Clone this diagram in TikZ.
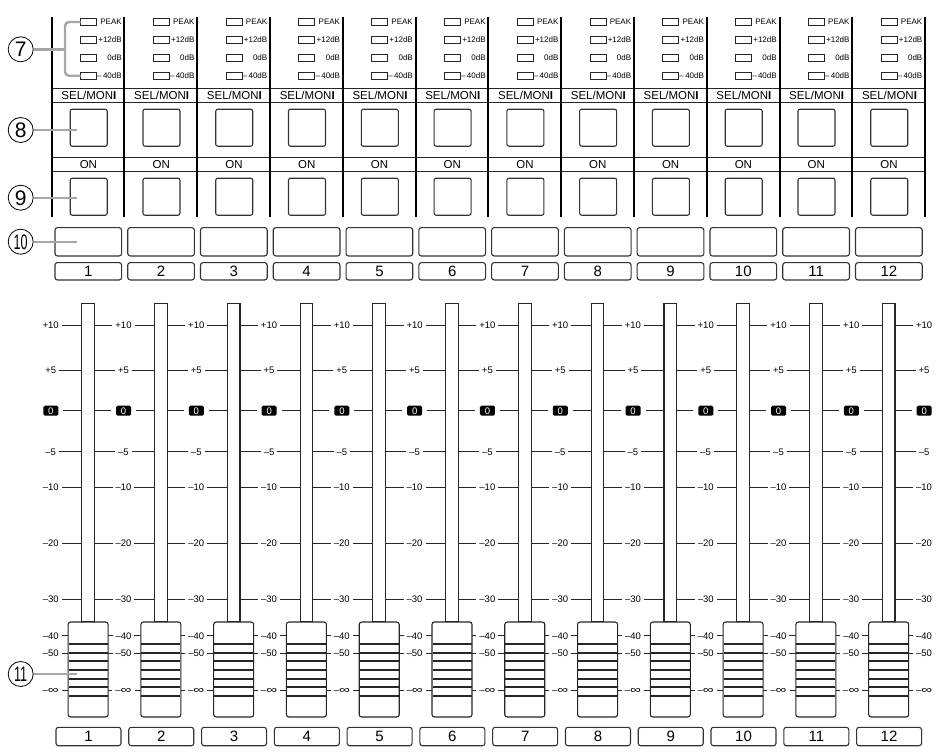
\documentclass[tikz,border=0pt]{standalone}
\usepackage{fontspec}
\setmainfont{Liberation Sans}
\usepackage{graphicx}
\newcommand{\infsym}{\raisebox{0.3pt}{\scalebox{1.6}[1.1]{∞}}}
\begin{document}
\begin{tikzpicture}[x=1pt,y=-1pt,
  sep/.style={line width=2pt,black},
  hline/.style={line width=0.9pt,black!85},
  ledbox/.style={draw=black!85,line width=0.7pt},
  btn/.style={draw=black!80,line width=1.1pt,rounded corners=2pt,minimum width=37pt,minimum height=37pt,inner sep=0},
  lbox/.style={draw=black!80,line width=1.1pt,rounded corners=2.5pt,inner sep=0},
  ledtxt/.style={font=\fontsize{8}{8}\selectfont,anchor=east,inner sep=0},
  hdtxt/.style={font=\fontsize{11.5}{12}\selectfont,inner sep=0,text height=8.2pt,text depth=0pt},
  numtxt/.style={font=\fontsize{15}{15}\selectfont,text height=10.6pt,text depth=0pt},
  sclbl/.style={font=\fontsize{9.5}{9.5}\selectfont,fill=white,inner xsep=3pt,inner ysep=1pt,text height=6.8pt,text depth=0pt},
  zerolbl/.style={font=\fontsize{9.5}{9.5}\selectfont,fill=black,text=white,rounded corners=1.5pt,minimum width=15pt,minimum height=10pt,inner sep=0,text height=6.8pt,text depth=0pt},
  faderslot/.style={draw=black!85,line width=1.1pt,fill=white},
  fadercap/.style={draw=black!85,line width=1.1pt,fill=white,rounded corners=2.5pt},
  stripe/.style={line width=2pt,black!85},
  callout/.style={circle,draw,line width=0.8pt,minimum size=25pt,inner sep=0,font=\fontsize{21}{21}\selectfont,text height=15pt,text depth=0pt},
  leader/.style={line width=2.4pt,black!35}
]
\useasboundingbox (0,0) rectangle (948,753);

% ---------- top section: grid ----------
\foreach \y in {88,102.7,157.3,171.7}
  \draw[hline] (51.7,\y) -- (925,\y);
\foreach \k in {0,...,12}
  \draw[sep] ({51.7+\k*72.78},16.7) -- ({51.7+\k*72.78},216.7);

\foreach \i in {1,...,12}{
  \pgfmathsetmacro\c{88.1+(\i-1)*72.78}
  % LEDs
  \foreach \y in {22,40,57.7,75.7}
    \draw[ledbox] (\c-7.6,\y-3.5) rectangle (\c+8.4,\y+3.5);
  \node[ledtxt] (pk\i) at (\c+33.8,22) {PEAK};
  \node[ledtxt] (p12\i) at (\c+33.8,40) {+12dB};
  \node[ledtxt] (z\i) at (\c+33.8,57.7) {0dB};
  \node[ledtxt] (m40\i) at (\c+33.8,75.7) {–\,40dB};
  % SEL/MONI and ON
  \node[hdtxt] (seltx\i) at (\c+0.8,95.3) {SEL/MON{\bfseries I}};
  \node[btn] (sel\i) at (\c+0.6,127.7) {};
  \node[hdtxt] (ontx\i) at (\c+0.3,164.5) {ON};
  \node[btn] (on\i) at (\c+0.6,196.7) {};
  % name box and number
  \node[lbox,minimum width=66.7pt,minimum height=28.3pt] (nm\i) at (\c+0.2,241.8) {};
  \node[lbox,numtxt,minimum width=66.7pt,minimum height=17.3pt] (id\i) at (\c+0.2,271.3) {\i};
}

% ---------- fader scale ----------
\foreach \y/\t in {325/+10,370/+5,451.7/–5,487.3/–10,543.3/–20,599/–30,635.7/–40,653.3/–50,690/–\infsym}{
  \draw[hline] (50.7,\y) -- (923.7,\y);
  \foreach \k in {0,...,12}
    \node[sclbl] (l\k) at ({50.7+\k*72.78},\y) {\t};
}
\draw[hline] (50.7,410.7) -- (923.7,410.7);
\foreach \k in {0,...,12}{
  \node[sclbl,minimum width=25pt] (zb\k) at ({50.8+\k*72.78},410.7) {};
  \node[zerolbl] (zl\k) at ({50.8+\k*72.78},410.7) {0};
}

\foreach \i in {1,...,12}{
  \pgfmathsetmacro\c{88.1+(\i-1)*72.78}
  \draw[faderslot] (\c-6.3,303.3) rectangle (\c+6.3,622);
  \draw[fadercap] (\c-20,622) rectangle (\c+20,717);
  \foreach \y in {644,652.5,660.5,669.5,678.5,687,696}
    \draw[stripe] (\c-19.5,\y) -- (\c+19.5,\y);
  \node[lbox,numtxt,minimum width=65pt,minimum height=18.4pt] (bn\i) at (\c+0.4,736.5) {\i};
}

% ---------- callouts ----------
\node[callout] (c7) at (20.7,49.3) {7};
\node[callout] (c8) at (20.7,130) {8};
\node[callout] (c9) at (20.7,197.7) {9};
\node[callout] (c10) at (20.7,241.7) {\scalebox{0.6}[1]{10}};
\node[callout] (c11) at (20.7,674) {\scalebox{0.6}[1]{11}};
\coordinate (t8) at (77,130);
\coordinate (t9) at (77,197.7);
\coordinate (t10) at (77,241.7);
\coordinate (t11) at (77,674);
\coordinate (b7) at (65,49.3);
\coordinate (b7t) at (80.5,22);
\coordinate (b7b) at (80.5,75.7);
\draw[leader] (c7.east) -- (b7);
\draw[leader,rounded corners=4pt] (b7t) -- (65,22) -- (65,75.7) -- (b7b);
\draw[leader] (c8.east) -- (t8);
\draw[leader] (c9.east) -- (t9);
\draw[leader] (c10.east) -- (t10);
\draw[leader] (c11.east) -- (t11);
\end{tikzpicture}
\end{document}
